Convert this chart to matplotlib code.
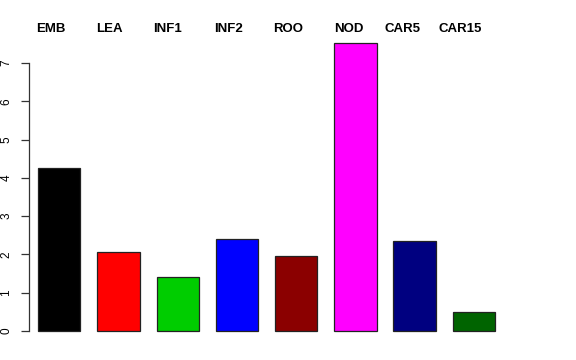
import numpy as np
import matplotlib
matplotlib.use("Agg")
import matplotlib.pyplot as plt

# tissue means
tissues = ["EMB", "LEA", "INF1", "INF2", "ROO", "NOD", "CAR5", "CAR15"]
values = [4.26, 2.07, 1.40, 2.39, 1.97, 7.51, 2.35, 0.49]
colors = ["black", "red", "#00CD00", "blue", "#8B0000", "magenta", "#000080", "#006400"]
yticks = [0, 1, 2, 3, 4, 5, 6, 7]

plt.rcParams['font.family'] = ['Liberation Sans', 'DejaVu Sans']

W, H = 576, 360
fig = plt.figure(figsize=(W / 100, H / 100), dpi=100)

# pixel layout: x_px = 21.2 + 42.3*x ; y_px = 331 - 38.3*y
L, R, T, B = 29, 540, 20, 340
ax = fig.add_axes([L / W, (H - B) / H, (R - L) / W, (B - T) / H])
ax.set_xlim((L - 21.2) / 42.3, (R - 21.2) / 42.3)
ax.set_ylim(-(B - 331) / 38.3, (331 - T) / 38.3)

centers = 0.9 + 1.4 * np.arange(len(tissues))
ax.bar(centers, values, width=1.0, color=colors, edgecolor="#222222", linewidth=0.9)

# labels sit above the plot, slightly left of each bar
shift = [-0.2, -0.22, -0.23, -0.19, -0.19, -0.15, -0.28, -0.32]
for c, s, name in zip(centers, shift, tissues):
    ax.text(c + s, (331 - 29.5) / 38.3, name, ha="center", va="center",
            fontsize=9.5, fontweight="bold", clip_on=False)

for side in ["top", "right", "bottom"]:
    ax.spines[side].set_visible(False)
ax.spines["left"].set_bounds(0, 7)
ax.spines["left"].set_color("#333333")
ax.spines["left"].set_linewidth(0.9)
ax.set_xticks([])
ax.set_yticks(yticks)
ax.set_yticklabels([str(t) for t in yticks], rotation=90, va="center", fontsize=8.5)
ax.tick_params(axis="y", length=6, width=0.9, color="#333333", pad=6)

fig.savefig("out.png", dpi=100)
